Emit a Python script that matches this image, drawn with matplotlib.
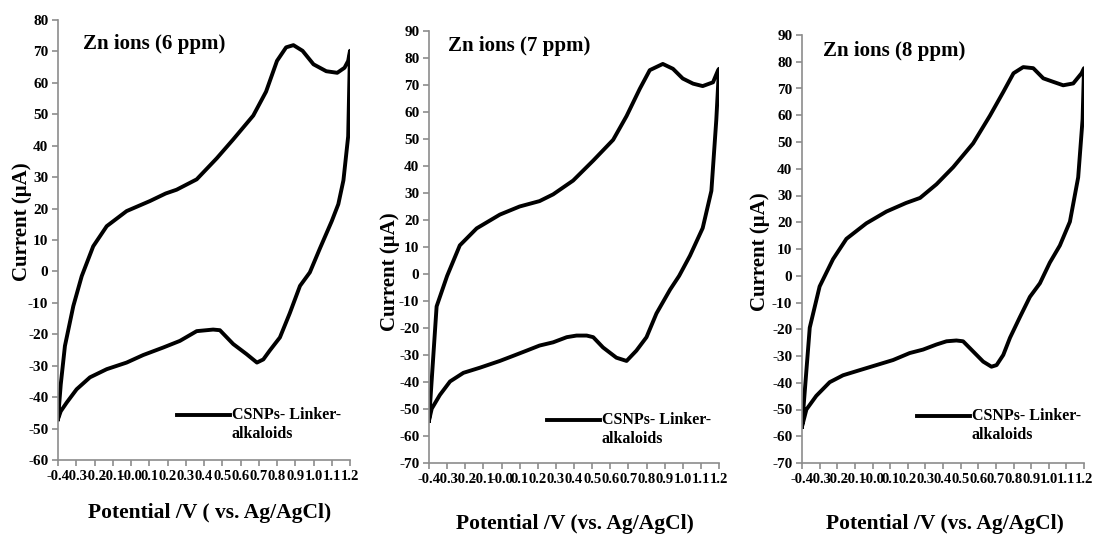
import numpy as np
import matplotlib
matplotlib.use("Agg")
import matplotlib.pyplot as plt

plt.rcParams['font.family'] = ['Liberation Serif', 'DejaVu Serif']
plt.rcParams['font.weight'] = 'bold'
plt.rcParams['axes.unicode_minus'] = False

# potential (V) and current (uA), forward then reverse scan
e_6 = [-0.40, -0.385, -0.362, -0.316, -0.270, -0.207, -0.133, -0.024, 0.104, 0.19, 0.25, 0.36,
       0.47, 0.56, 0.67, 0.74, 0.80, 0.85, 0.89, 0.94, 1.00, 1.07, 1.13, 1.17, 1.19, 1.20,
       1.19, 1.164, 1.136, 1.10, 1.035, 0.98, 0.926, 0.87, 0.816, 0.76, 0.725, 0.69, 0.633,
       0.56, 0.487, 0.45, 0.36, 0.268, 0.177, 0.067, -0.024, -0.133, -0.225, -0.298,
       -0.352, -0.385, -0.40]
i_6 = [-47, -36, -23.7, -11, -1.5, 8, 14.4, 19.2, 22.4, 24.8, 26, 29.3,
       36, 42, 49.6, 57.2, 67, 71.3, 72, 70.2, 65.9, 63.7, 63.2, 64.8, 67, 70.2,
       43, 29, 21.4, 16, 7.3, -0.3, -4.6, -13.3, -21, -25.2, -28, -29, -26.3,
       -23.1, -18.7, -18.5, -19, -22.1, -24.2, -26.6, -29, -31.1, -33.7, -37.5,
       -41.7, -44.5, -47]

e_7 = [-0.40, -0.358, -0.30, -0.23, -0.137, -0.009, 0.10, 0.21, 0.285, 0.395, 0.506, 0.616,
       0.69, 0.763, 0.818, 0.89, 0.946, 1.00, 1.057, 1.11, 1.167, 1.195, 1.20,
       1.185, 1.158, 1.11, 1.04, 0.98, 0.93, 0.855, 0.80, 0.744, 0.69, 0.634, 0.56, 0.506,
       0.47, 0.414, 0.36, 0.285, 0.21, 0.138, 0.065, -0.009, -0.119, -0.21, -0.284,
       -0.34, -0.385, -0.40]
i_7 = [-54.3, -12, -0.7, 10.6, 16.9, 22, 25, 27, 29.5, 34.6, 42, 49.7,
       58.5, 68.6, 75.5, 77.8, 76, 72.4, 70.5, 69.6, 71, 75.5, 76,
       57, 30.8, 17, 6.8, -0.7, -5.8, -14.6, -23.4, -28.4, -32.2, -31, -27.2, -23.4,
       -22.8, -22.8, -23.4, -25.3, -26.5, -28.4, -30.3, -32.2, -34.7, -36.6, -39.8,
       -44.8, -49.9, -54.3]

e_8 = [-0.40, -0.356, -0.30, -0.224, -0.148, -0.035, 0.079, 0.19, 0.27, 0.363, 0.458, 0.571,
       0.666, 0.742, 0.80, 0.855, 0.912, 0.969, 1.025, 1.082, 1.139, 1.186, 1.20,
       1.192, 1.167, 1.12, 1.063, 1.006, 0.95, 0.893, 0.836, 0.78, 0.742, 0.704, 0.675,
       0.628, 0.571, 0.514, 0.476, 0.42, 0.363, 0.287, 0.211, 0.117, 0.022, -0.073,
       -0.167, -0.243, -0.319, -0.375, -0.40]
i_8 = [-56.4, -19.4, -4, 6.2, 13.8, 19.6, 24, 27.2, 29.1, 34.2, 40.6, 49.5,
       59.8, 68.7, 75.7, 78, 77.6, 73.8, 72.5, 71.2, 71.9, 75.7, 77.6,
       58.5, 36.8, 20.2, 11.3, 4.9, -2.8, -7.9, -15.5, -23.2, -29.6, -33.4, -34,
       -32.1, -28.3, -24.5, -24.2, -24.5, -25.7, -27.6, -28.9, -31.5, -33.4, -35.3,
       -37.2, -39.8, -44.9, -50, -56.4]

titles = ["Zn ions (6 ppm)", "Zn ions (7 ppm)", "Zn ions (8 ppm)"]
xlabels = ["Potential /V ( vs. Ag/AgCl)", "Potential /V (vs. Ag/AgCl)", "Potential /V (vs. Ag/AgCl)"]
ylims = [(-60, 80), (-70, 90), (-70, 90)]
legend_label = "CSNPs- Linker-\nalkaloids"

W, H = 1096, 535
fig = plt.figure(figsize=(W / 100, H / 100), dpi=100)


def fx(px):
    return px / W


def fy(py):
    return 1 - py / H


# axes boxes in pixels: left, top, right, bottom
boxes = [(58, 20, 350, 460), (429, 31, 719, 463), (802, 35, 1084, 463)]
title_pos = [(83, 44), (448, 46), (823, 51)]
ylab_pos = [(22, 222), (390, 272), (760, 252)]
xlab_pos = [(210, 513), (575, 524), (945, 524)]
leg_pos = [(177, 415), (547, 420), (917, 416)]

data = [(e_6, i_6), (e_7, i_7), (e_8, i_8)]
xticks = np.round(np.arange(-0.4, 1.21, 0.1), 1)

for k in range(3):
    l, t, r, b = boxes[k]
    ax = fig.add_axes([fx(l), fy(b), fx(r - l), fy(t) - fy(b)])
    e, i = data[k]
    ax.plot(e, i, color='black', lw=2.8, solid_joinstyle='round')
    ax.set_xlim(-0.4, 1.2)
    ax.set_ylim(*ylims[k])
    ax.set_yticks(np.arange(ylims[k][0], ylims[k][1] + 1, 10))
    ax.set_xticks(xticks)
    ax.set_xticklabels(["%.1f" % v for v in xticks])
    for s in ['top', 'right']:
        ax.spines[s].set_visible(False)
    for s in ['left', 'bottom']:
        ax.spines[s].set_color('#8c8c8c')
        ax.spines[s].set_linewidth(1.2)
    ax.tick_params(axis='both', direction='out', color='#8c8c8c', length=4, width=1.2, pad=3)
    ax.tick_params(axis='y', labelsize=11)
    ax.tick_params(axis='x', labelsize=10.5)
    for lab in ax.get_xticklabels() + ax.get_yticklabels():
        lab.set_fontweight('bold')

    fig.text(fx(title_pos[k][0]), fy(title_pos[k][1]), titles[k], fontsize=15,
             fontweight='bold', va='center', ha='left')
    fig.text(fx(ylab_pos[k][0]), fy(ylab_pos[k][1]), "Current (\u03bcA)", fontsize=15,
             fontweight='bold', rotation=90, va='center', ha='center')
    fig.text(fx(xlab_pos[k][0]), fy(xlab_pos[k][1]), xlabels[k], fontsize=15.5,
             fontweight='bold', va='center', ha='center')

    lx, ly = leg_pos[k]
    fig.add_artist(plt.Line2D([fx(lx), fx(lx + 53)], [fy(ly), fy(ly)], color='black', lw=2.8))
    fig.text(fx(lx + 55), fy(ly - 8), legend_label, fontsize=11.5, fontweight='bold',
             va='top', ha='left', linespacing=1.25)

fig.savefig("out.png", dpi=100)
